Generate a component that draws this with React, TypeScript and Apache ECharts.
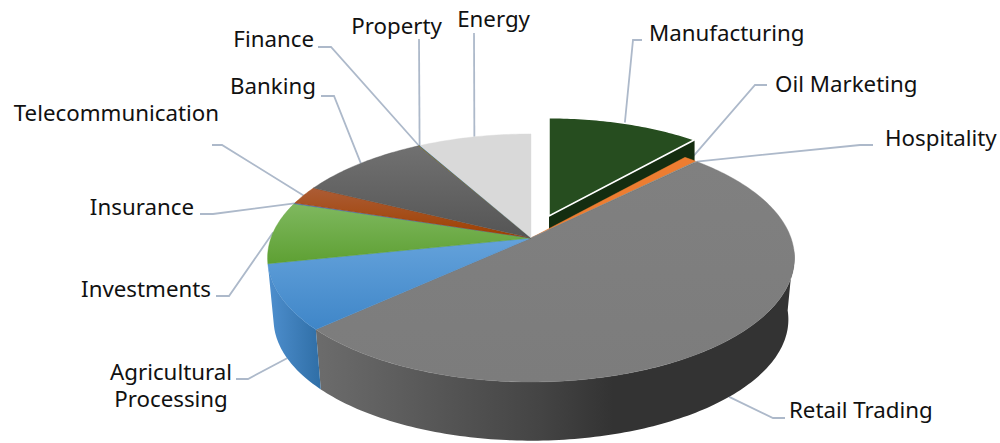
import React, { useEffect, useRef } from "react";
import * as echarts from "echarts";

const categories = ["Manufacturing", "Oil Marketing", "Hospitality", "Retail Trading", "Agricultural\nProcessing", "Investments", "Insurance", "Telecommunication", "Banking", "Finance", "Property", "Energy"];
const shares = [11.55, 0.95, 0.1, 50.6, 8.5, 8.1, 0.1, 2.4, 9.5, 0.05, 0.05, 8.1];

const topGradients = [
  ["#264D1F", "#264D1F"], ["#ED7D31", "#ED7D31"], ["#A5A5A5", "#A5A5A5"], ["#808080", "#7C7C7C"],
  ["#64A2DB", "#3F86C8"], ["#7FB85F", "#5EA033"], ["#4472C4", "#4472C4"], ["#AC5C35", "#9E4000"],
  ["#717171", "#555555"], ["#997300", "#997300"], ["#255E91", "#255E91"], ["#D9D9D9", "#D9D9D9"],
];
const wallStops: [number, string][][] = [
  [[0, "#142D10"], [1, "#142D10"]], [[0, "#A85518"], [1, "#A85518"]], [[0, "#777777"], [1, "#777777"]],
  [[0, "#6C6C6C"], [0.47, "#444444"], [0.62, "#333333"], [1, "#333333"]],
  [[0, "#4E8FCE"], [1, "#2F6EA6"]],
];

const labelPlaces: [number, number, string][] = [
  [649, 32, "left"], [775, 83, "left"], [885, 137, "left"], [789, 409, "left"],
  [171, 385, "center"], [211, 288, "right"], [194, 206, "right"], [219, 112, "right"],
  [316, 85, "right"], [314, 38, "right"], [442, 25, "right"], [530, 18, "right"],
];
const leaderEnds: number[][] = [
  [642, 40, 633, 40], [767, 85, 755, 85], [873, 145, 860, 145], [785, 418, 773, 418],
  [236, 379, 248, 379], [216, 296, 229, 296], [200, 214, 213, 214], [212, 145, 222, 145],
  [321, 96, 334, 96], [318, 47, 331, 47], [419, 39, 419, 39], [474, 33, 474, 33],
];

const APEX_X = 531, APEX_Y = 238, RX = 260, RY = 120.8, PERSP = 0.161;
const BOTTOM_DROP = 62, BOTTOM_SCALE = 0.977;
const WALL_FIRST_ANGLE = 95;
const EXPLODED_APEX = [549, 216], EXPLODED_SCALE = 0.945, EXPLODED_DEPTH = 60;
const FONT = "Noto Sans";
const FONT_SIZE = 22.3;

function rim(deg: number): number[] {
  const t = (deg * Math.PI) / 180;
  const s = 1 / (1 + PERSP * Math.cos(t));
  return [APEX_X + RX * Math.sin(t) * s, APEX_Y - RY * Math.cos(t) * s];
}
function rimExploded(deg: number): number[] {
  const p = rim(deg);
  return [EXPLODED_APEX[0] + (p[0] - APEX_X) * EXPLODED_SCALE, EXPLODED_APEX[1] + (p[1] - APEX_Y) * EXPLODED_SCALE];
}
function rimBottom(deg: number): number[] {
  const p = rim(deg);
  return [APEX_X + (p[0] - APEX_X) * BOTTOM_SCALE, APEX_Y + BOTTOM_DROP + (p[1] - APEX_Y) * BOTTOM_SCALE];
}
function arc(a: number, b: number, f: (d: number) => number[]): number[][] {
  const n = Math.max(2, Math.ceil(Math.abs(b - a)));
  const pts: number[][] = [];
  for (let i = 0; i <= n; i++) pts.push(f(a + ((b - a) * i) / n));
  return pts;
}
function vGrad(stops: string[]) {
  return new echarts.graphic.LinearGradient(0, 0, 0, 1, [
    { offset: 0, color: stops[0] },
    { offset: 1, color: stops[1] },
  ]);
}
function hGrad(stops: [number, string][]) {
  return new echarts.graphic.LinearGradient(0, 0, 1, 0, stops.map(([offset, color]) => ({ offset, color })));
}

const total = shares.reduce((a, b) => a + b, 0);
const sliceRows: number[][] = [];
{
  let acc = 0;
  shares.forEach((v, i) => {
    const start = (acc / total) * 360;
    acc += v;
    sliceRows.push([start, (acc / total) * 360, i]);
  });
}
const facesViewer = (row: number[]) => {
  const mid = (row[0] + row[1]) / 2;
  return mid > 100 && mid < 260;
};

function renderExploded(_p: any, api: any) {
  const a = api.value(0), b = api.value(1), i = api.value(2);
  const end = rimExploded(b);
  return {
    type: "group",
    children: [
      {
        type: "polygon",
        shape: {
          points: [EXPLODED_APEX, end, [end[0], end[1] + EXPLODED_DEPTH], [EXPLODED_APEX[0], EXPLODED_APEX[1] + EXPLODED_DEPTH]],
        },
        style: { fill: wallStops[i][0][1] },
      },
      {
        type: "polygon",
        shape: { points: [EXPLODED_APEX, ...arc(a, b, rimExploded)] },
        style: { fill: topGradients[i][0], stroke: "#FFFFFF", lineWidth: 1.5 },
      },
    ],
  };
}
function renderWall(_p: any, api: any) {
  const a = Math.max(api.value(0), WALL_FIRST_ANGLE), b = api.value(1), i = api.value(2);
  return {
    type: "polygon",
    shape: { points: [...arc(a, b, rim), ...arc(a, b, rimBottom).reverse()] },
    style: { fill: hGrad(wallStops[i]) },
  };
}
function renderTop(_p: any, api: any) {
  const a = api.value(0), b = api.value(1), i = api.value(2);
  return {
    type: "polygon",
    shape: { points: [[APEX_X, APEX_Y], ...arc(a, b, rim)] },
    style: { fill: vGrad(topGradients[i]), stroke: topGradients[i][1], lineWidth: 0.4 },
  };
}
function renderLabel(_p: any, api: any) {
  const a = api.value(0), b = api.value(1), i = api.value(2);
  const mid = (a + b) / 2;
  const p = i === 0 ? rimExploded(mid) : facesViewer([a, b]) ? rimBottom(mid) : rim(mid);
  const [ex, ey, kx, ky] = leaderEnds[i];
  const [tx, ty, align] = labelPlaces[i];
  return {
    type: "group",
    children: [
      {
        type: "polyline",
        shape: { points: [[ex, ey], [kx, ky], p] },
        style: { stroke: "#ADB9CA", lineWidth: 1.8, fill: null },
      },
      {
        type: "text",
        x: tx,
        y: ty,
        style: {
          text: categories[i],
          fill: "#111111",
          fontSize: FONT_SIZE,
          fontFamily: FONT,
          align,
          verticalAlign: "middle",
          lineHeight: 27,
        },
      },
    ],
  };
}

export default function App() {
  const ref = useRef<HTMLDivElement>(null);
  useEffect(() => {
    const chart = echarts.init(ref.current!, undefined, { renderer: "svg" });
    const base = { type: "custom", coordinateSystem: "none", silent: true, animation: false, clip: false };
    chart.setOption({
      animation: false,
      backgroundColor: "#FFFFFF",
      series: [
        { ...base, name: "labels", z: 1, renderItem: renderLabel, data: sliceRows },
        { ...base, name: "exploded", z: 2, renderItem: renderExploded, data: sliceRows.slice(0, 1) },
        { ...base, name: "walls", z: 3, renderItem: renderWall, data: sliceRows.filter(facesViewer) },
        { ...base, name: "tops", z: 4, renderItem: renderTop, data: sliceRows.slice(1) },
      ],
    });
    return () => chart.dispose();
  }, []);
  return <div ref={ref} style={{ position: "fixed", left: 0, top: 0, width: 1000, height: 443 }} />;
}
